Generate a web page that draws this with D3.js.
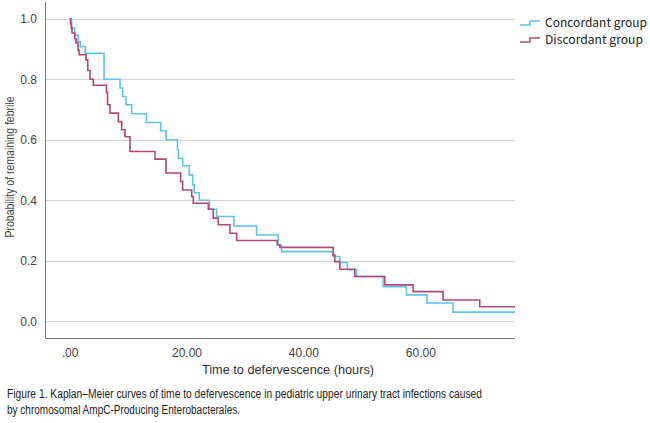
<!DOCTYPE html>
<html>
<head>
<meta charset="utf-8">
<script src="https://cdn.jsdelivr.net/npm/d3@7"></script>
<style>
  html, body { margin: 0; padding: 0; background: #fff; }
  svg { display: block; }
</style>
</head>
<body>
<svg id="chart" width="650" height="423"></svg>
<script>
// ---- Data ----
const seriesNames = ["Concordant group", "Discordant group"];
const concordantTimes = [0.34, 0.89, 1.45, 1.85, 2.70, 5.90, 8.63, 9.09, 9.66, 10.63, 13.16, 15.59, 16.50, 18.46, 18.63, 19.35, 20.48, 21.06, 21.33, 22.19, 23.93, 25.16, 28.12, 32.0, 35.69, 36.27, 45.09, 46.24, 47.52, 49.09, 53.64, 57.64, 61.16, 65.6];
const concordantSurv  = [0.969, 0.945, 0.925, 0.908, 0.886, 0.800, 0.771, 0.743, 0.716, 0.686, 0.657, 0.630, 0.600, 0.567, 0.539, 0.514, 0.484, 0.451, 0.425, 0.400, 0.370, 0.346, 0.315, 0.285, 0.252, 0.230, 0.214, 0.194, 0.170, 0.148, 0.114, 0.087, 0.060, 0.030];
const discordantTimes = [0.17, 0.31, 0.43, 0.89, 1.11, 1.45, 1.62, 2.82, 3.11, 3.50, 4.07, 6.32, 6.50, 6.92, 8.34, 8.92, 9.49, 10.34, 14.62, 16.50, 19.01, 19.35, 20.89, 21.16, 23.73, 24.58, 25.44, 27.44, 28.58, 35.52, 35.98, 45.09, 45.38, 46.24, 48.80, 53.93, 58.77, 63.90, 70.17];
const discordantSurv  = [0.983, 0.969, 0.953, 0.934, 0.920, 0.897, 0.881, 0.864, 0.829, 0.800, 0.780, 0.756, 0.716, 0.688, 0.660, 0.633, 0.610, 0.561, 0.536, 0.490, 0.462, 0.434, 0.412, 0.390, 0.370, 0.341, 0.319, 0.291, 0.267, 0.252, 0.244, 0.219, 0.197, 0.172, 0.148, 0.120, 0.098, 0.070, 0.048];
const xTicks = [0, 20, 40, 60];
const xTickLabels = [".00", "20.00", "40.00", "60.00"];
const yTicks = [0, 0.2, 0.4, 0.6, 0.8, 1.0];
const yTickLabels = ["0.0", "0.2", "0.4", "0.6", "0.8", "1.0"];
const xTitle = "Time to defervescence (hours)";
const yTitle = "Probability of remaining febrile";
const captionLines = [
  "Figure 1. Kaplan\u2013Meier curves of time to defervescence in pediatric upper urinary tract infections caused",
  "by chromosomal AmpC-Producing Enterobacterales."
];
const colors = ["#5ec3ea", "#b24878"];

// ---- Layout ----
const svg = d3.select("#chart");
const plotLeft = 45, plotRight = 515, plotTop = 2, plotBottom = 338;
const xMin = -4.2, xMax = 76.2;
const x = d3.scaleLinear().domain([xMin, xMax]).range([plotLeft, plotRight]);
const y = d3.scaleLinear().domain([-0.0555, 1.0555]).range([plotBottom, plotTop]);

const axisFont = "'Liberation Sans', Arial, sans-serif";
const legendFont = "'Noto Sans CJK JP', 'Noto Sans', sans-serif";

// gridlines
svg.append("g").selectAll("line").data(yTicks).join("line")
  .attr("x1", plotLeft).attr("x2", plotRight)
  .attr("y1", d => Math.round(y(d)) + 0.5).attr("y2", d => Math.round(y(d)) + 0.5)
  .attr("stroke", "#d4d4d4").attr("stroke-width", 1.2);

// y axis
const yAxis = d3.axisLeft(y).tickValues(yTicks).tickFormat((d, i) => yTickLabels[i]).tickSize(0).tickPadding(8);
const gy = svg.append("g").attr("transform", `translate(${plotLeft},0)`).call(yAxis);
gy.select(".domain").remove();
gy.selectAll("text").attr("font-family", axisFont).attr("font-size", 12).attr("fill", "#444");
svg.append("line").attr("x1", plotLeft + 0.5).attr("x2", plotLeft + 0.5).attr("y1", plotTop).attr("y2", plotBottom)
  .attr("stroke", "#777").attr("stroke-width", 1);

// x axis
const xAxis = d3.axisBottom(x).tickValues(xTicks).tickFormat((d, i) => xTickLabels[i]).tickSize(0).tickPadding(10);
const gx = svg.append("g").attr("transform", `translate(0,${plotBottom})`).call(xAxis);
gx.select(".domain").remove();
gx.selectAll("text").attr("font-family", axisFont).attr("font-size", 12).attr("fill", "#444");
svg.append("line").attr("x1", plotLeft).attr("x2", plotRight).attr("y1", plotBottom + 0.5).attr("y2", plotBottom + 0.5)
  .attr("stroke", "#777").attr("stroke-width", 1);

// titles
svg.append("text").attr("x", 288).attr("y", 374).attr("text-anchor", "middle")
  .attr("font-family", axisFont).attr("font-size", 12.5).attr("fill", "#333")
  .attr("textLength", 172).attr("lengthAdjust", "spacingAndGlyphs").text(xTitle);
svg.append("text").attr("transform", `translate(14,${167}) rotate(-90)`).attr("text-anchor", "middle")
  .attr("font-family", axisFont).attr("font-size", 12).attr("fill", "#444")
  .attr("textLength", 141).attr("lengthAdjust", "spacingAndGlyphs").text(yTitle);

// curves
const line = d3.line().x(d => x(d[0])).y(d => y(d[1])).curve(d3.curveStepAfter);
function steps(times, surv) {
  const pts = [[0, 1]];
  times.forEach((t, i) => pts.push([t, surv[i]]));
  pts.push([xMax, surv[surv.length - 1]]);
  return pts;
}
const series = [steps(concordantTimes, concordantSurv), steps(discordantTimes, discordantSurv)];
svg.append("g").selectAll("path").data(series).join("path")
  .attr("d", line).attr("fill", "none")
  .attr("stroke", (d, i) => colors[i]).attr("stroke-width", 1.6);

// legend
const lg = svg.append("g");
const legendWidths = [102, 98];
seriesNames.forEach((name, i) => {
  const cy = 23 + i * 17;
  lg.append("path").attr("d", `M520,${cy + 2} H530 V${cy - 2} H540`)
    .attr("fill", "none").attr("stroke", colors[i]).attr("stroke-width", 1.6);
  lg.append("text").attr("x", 545).attr("y", cy + 4)
    .attr("font-family", legendFont).attr("font-size", 12).attr("fill", "#222")
    .attr("textLength", legendWidths[i]).attr("lengthAdjust", "spacingAndGlyphs")
    .text(name);
});

// caption
captionLines.forEach((t, i) => {
  svg.append("text").attr("x", 7).attr("y", 398 + i * 16)
    .attr("font-family", axisFont).attr("font-size", 12.5).attr("fill", "#222")
    .attr("textLength", i === 0 ? 475 : 233).attr("lengthAdjust", "spacingAndGlyphs")
    .text(t);
});
</script>
</body>
</html>
